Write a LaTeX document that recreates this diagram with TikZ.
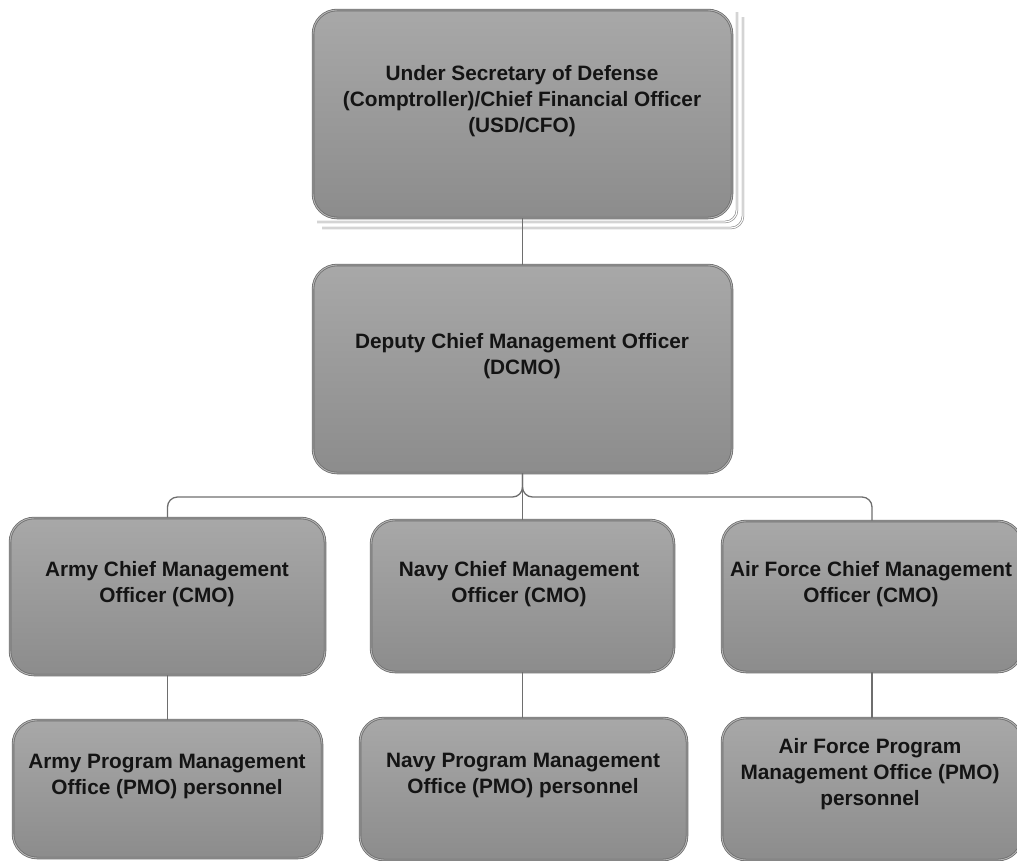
\documentclass[tikz,border=0pt]{standalone}
\usepackage{fontspec}
\setmainfont{Liberation Sans}
\definecolor{edge}{HTML}{6E6E6E}
\definecolor{inner}{HTML}{B4B4B4}
\definecolor{boxtop}{HTML}{A8A8A8}
\definecolor{boxbot}{HTML}{8C8C8C}
\definecolor{ink}{HTML}{141414}
\begin{document}
\begin{tikzpicture}[x=1pt,y=-1pt,
  box/.style={draw=edge, line width=0.8pt, double=inner, double distance=0.9pt,
    rounded corners=24pt, top color=boxtop, bottom color=boxbot, inner sep=0pt},
  txt/.style={align=center, font=\bfseries\fontsize{20.8}{26}\selectfont, text=ink, inner sep=0pt},
  conn/.style={draw=edge, line width=1.3pt},
  frame/.style={draw=edge!85, line width=0.6pt, double=white, double distance=1.2pt, rounded corners=12pt}]
\useasboundingbox (0,0) rectangle (1017,860);
% frame lines behind top box
\draw[frame] (322,228) -- (743,228) -- (743,17);
\draw[frame] (317,222) -- (737,222) -- (737,12);
% boxes
\node[box, minimum width=419pt, minimum height=208pt] (usd) at (522.5,114) {};
\node[box, minimum width=419pt, minimum height=208pt] (dcmo) at (522.5,369) {};
\node[box, minimum width=315pt, minimum height=157pt] (army) at (167.5,596.5) {};
\node[box, minimum width=303pt, minimum height=152pt] (navy) at (522.5,596) {};
\node[box, minimum width=300pt, minimum height=151pt] (af) at (872,596.5) {};
\node[box, minimum width=309pt, minimum height=138pt] (armyp) at (167.5,789) {};
\node[box, minimum width=327pt, minimum height=142pt] (navyp) at (523.5,789) {};
\node[box, minimum width=300pt, minimum height=142pt] (afp) at (872,789) {};
% texts
\node[txt] (t1) at (522,101) {Under Secretary of Defense\\(Comptroller)/Chief Financial Officer\\(USD/CFO)};
\node[txt] (t2) at (522,356) {Deputy Chief Management Officer\\(DCMO)};
\node[txt] (t3) at (167,584) {Army Chief Management\\Officer (CMO)};
\node[txt] (t4) at (519,584) {Navy Chief Management\\Officer (CMO)};
\node[txt] (t5) at (871,584) {Air Force Chief Management\\Officer (CMO)};
\node[txt] (t6) at (167,776.5) {Army Program Management\\Office (PMO) personnel};
\node[txt] (t7) at (523,775) {Navy Program Management\\Office (PMO) personnel};
\node[txt] (t8) at (870,774.5) {Air Force Program\\Management Office (PMO)\\personnel};
% connectors
\draw[conn] (usd.south) -- (dcmo.north);
\draw[conn] (dcmo.south) -- (navy.north);
\draw[conn, rounded corners=10pt] (dcmo.south) -- (522.5,497) -- (167.5,497) -- (army.north);
\draw[conn, rounded corners=10pt] (dcmo.south) -- (522.5,497) -- (872,497) -- (af.north);
\draw[conn] (army.south) -- (armyp.north);
\draw[conn] (navy.south) -- (navyp.north -| navy.south);
\draw[conn] (af.south) -- (afp.north);
\end{tikzpicture}
\end{document}
